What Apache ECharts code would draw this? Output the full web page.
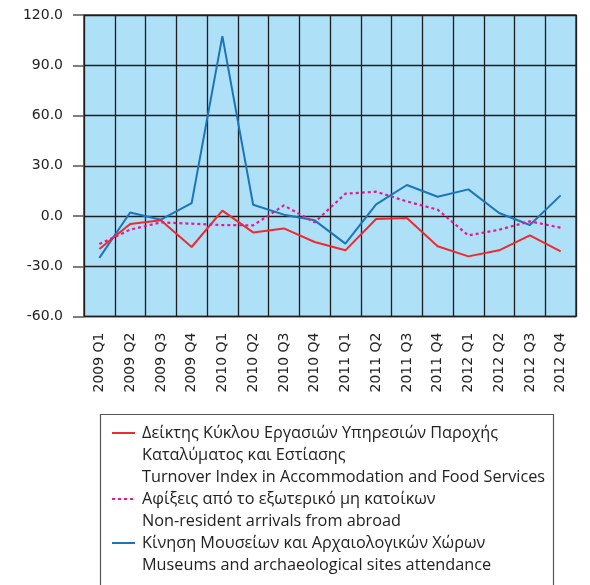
<!DOCTYPE html>
<html>
<head>
<meta charset="utf-8">
<script src="https://cdn.jsdelivr.net/npm/echarts@6/dist/echarts.min.js"></script>
<style>
  html, body { margin: 0; padding: 0; background: #ffffff; }
  #chart { width: 590px; height: 585px; }
</style>
</head>
<body>
<div id="chart"></div>
<script>
// Quarterly year-on-year changes (%), 2009–2012
const quarters = [
  '2009 Q1', '2009 Q2', '2009 Q3', '2009 Q4',
  '2010 Q1', '2010 Q2', '2010 Q3', '2010 Q4',
  '2011 Q1', '2011 Q2', '2011 Q3', '2011 Q4',
  '2012 Q1', '2012 Q2', '2012 Q3', '2012 Q4'
];

const turnoverIndex = [
  -19.7, -4.8, -2.6, -18.5,
  3.2, -9.8, -7.4, -15.5,
  -20.5, -1.8, -1.2, -18.1,
  -24.1, -20.5, -11.6, -21.1
];

const nonResidentArrivals = [
  -16.7, -8.2, -3.8, -4.6,
  -5.4, -5.6, 6.3, -3.8,
  13.3, 14.5, 8.7, 3.8,
  -11.6, -8.2, -3.2, -7.0
];

const museumAttendance = [
  -25.0, 2.1, -2.2, 7.7,
  107.4, 6.7, 0.8, -2.6,
  -16.5, 6.9, 18.5, 11.5,
  15.9, 1.8, -5.4, 12.3
];

// Legend labels: Greek title lines followed by the English title
const seriesLabels = [
  ['Δείκτης Κύκλου Εργασιών Υπηρεσιών Παροχής', 'Καταλύματος και Εστίασης', 'Turnover Index in Accommodation and Food Services'],
  ['Αφίξεις από το εξωτερικό μη κατοίκων', 'Non-resident arrivals from abroad'],
  ['Κίνηση Μουσείων και Αρχαιολογικών Χώρων', 'Museums and archaeological sites attendance']
];

const yTicks = { min: -60, max: 120, interval: 30 };

const LEGEND_LINE = 22;
const LEGEND_FONT = 16.25;

// Series names are the label lines; the legend text is padded with empty
// lines on top so the key line sits level with the first text line.
const seriesNames = seriesLabels.map(lines => lines.join('\n'));
function legendText(name) {
  const lines = name.split('\n');
  return '\n'.repeat(lines.length - 1) + name;
}

const chart = echarts.init(document.getElementById('chart'), null, { renderer: 'canvas' });

chart.setOption({
  animation: false,
  backgroundColor: '#ffffff',
  textStyle: { fontFamily: 'DejaVu Sans' },
  grid: {
    left: 84, right: 14, top: 15, bottom: 268.5,
    show: true,
    backgroundColor: '#aee0f8',
    borderColor: '#3a3a3a',
    borderWidth: 1.5
  },
  xAxis: {
    type: 'category',
    data: quarters,
    boundaryGap: true,
    axisLine: { show: false },
    axisTick: { show: false },
    axisLabel: {
      rotate: 90,
      margin: 16,
      fontSize: 14,
      color: '#222222',
      fontFamily: 'DejaVu Sans'
    },
    splitLine: { show: true, lineStyle: { color: '#1e1e1e', width: 1.3 } }
  },
  yAxis: {
    type: 'value',
    min: yTicks.min,
    max: yTicks.max,
    interval: yTicks.interval,
    axisLine: { show: false },
    axisTick: { show: true, length: 11, lineStyle: { color: '#555555', width: 1.5 } },
    axisLabel: {
      margin: 21,
      fontSize: 14,
      color: '#222222',
      fontFamily: 'DejaVu Sans',
      formatter: v => v.toFixed(1)
    },
    splitLine: { show: true, lineStyle: { color: '#1e1e1e', width: 1.3 } }
  },
  legend: {
    orient: 'vertical',
    left: 111,
    top: 378,
    itemWidth: 23,
    itemHeight: 10,
    itemGap: -22,
    padding: 0,
    itemStyle: { opacity: 0 },
    formatter: legendText,
    textStyle: {
      fontFamily: 'Open Sans',
      fontSize: LEGEND_FONT,
      lineHeight: LEGEND_LINE,
      color: '#222222',
      padding: [0, 0, 0, 2]
    },
    data: seriesNames
  },
  graphic: [{
    type: 'rect',
    left: 98,
    top: 412,
    shape: { width: 453, height: 200 },
    style: { fill: 'none', stroke: '#555555', lineWidth: 1.2 },
    z: -1
  }],
  series: [
    {
      name: seriesNames[0],
      type: 'line',
      data: turnoverIndex,
      symbol: 'none',
      color: '#ee2a2e',
      lineStyle: { color: '#ee2a2e', width: 2 },
      z: 3
    },
    {
      name: seriesNames[1],
      type: 'line',
      data: nonResidentArrivals,
      symbol: 'none',
      color: '#e6198c',
      lineStyle: { color: '#e6198c', width: 2.2, type: [3, 3] },
      z: 4
    },
    {
      name: seriesNames[2],
      type: 'line',
      data: museumAttendance,
      symbol: 'none',
      color: '#1a75bb',
      lineStyle: { color: '#1a75bb', width: 2 },
      z: 2
    }
  ]
});
</script>
</body>
</html>
